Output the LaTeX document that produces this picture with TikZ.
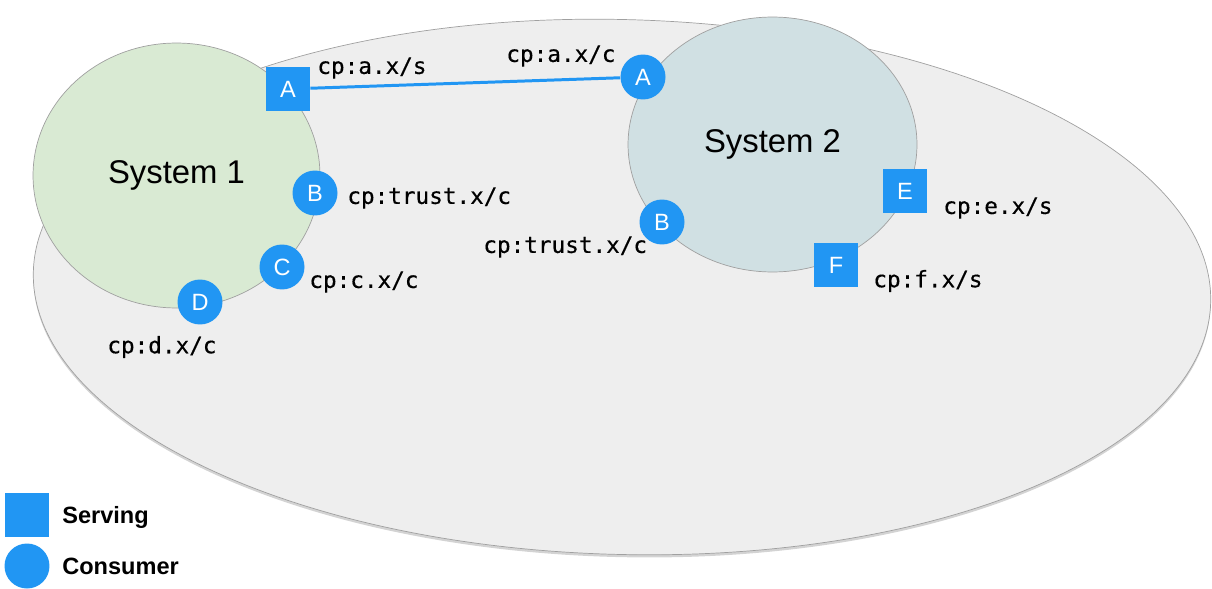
\documentclass[tikz,border=0pt]{standalone}
\usepackage{fontspec}
\setmainfont{Liberation Sans}
\setmonofont{DejaVu Sans Mono}[FakeBold=0.4]
\usetikzlibrary{shapes}
\usetikzlibrary{shadows}

\definecolor{portblue}{RGB}{33,150,243}
\definecolor{zonegray}{RGB}{238,238,238}
\definecolor{edgegray}{RGB}{160,160,160}
\definecolor{sysgreen}{RGB}{217,234,211}
\definecolor{syscyan}{RGB}{208,224,227}

\begin{document}
\begin{tikzpicture}[x=0.02cm,y=-0.02cm]
	\tikzstyle{serving}=[rectangle,fill=portblue,text=white,minimum size=0.88cm,inner sep=0pt,font=\fontsize{13.4}{15}\selectfont]
	\tikzstyle{consumer}=[circle,fill=portblue,text=white,minimum size=0.9cm,inner sep=0pt,font=\fontsize{13.4}{15}\selectfont]
	\tikzstyle{port}=[anchor=west,inner sep=0pt,font=\ttfamily\fontsize{12.9}{15}\selectfont]
	\tikzstyle{system}=[ellipse,draw=edgegray,inner sep=0pt,font=\fontsize{18.7}{21}\selectfont]
	\tikzstyle{legend}=[anchor=west,inner sep=0pt,font=\bfseries\fontsize{13.4}{15}\selectfont]
	\useasboundingbox (0,0) rectangle (1212,588);
	% the zone and both systems
	\node[ellipse,draw=edgegray,fill=zonegray,minimum width=23.56cm,minimum height=10.7cm,rotate=-1.5,
		drop shadow={shadow xshift=0pt,shadow yshift=-1.5pt,opacity=0.35}] (zone) at (622,287) {};
	\node[system,fill=sysgreen,minimum width=5.74cm,minimum height=5.3cm] (sys1) at (176.5,175.5) {System 1};
	\node[system,fill=syscyan,minimum width=5.78cm,minimum height=5.1cm] (sys2) at (772.5,144.5) {System 2};
	% ports
	\node[serving] (sqA) at (288,89) {A};
	\node[consumer] (cA) at (643,77) {A};
	\node[consumer] (cB1) at (315,193) {B};
	\node[consumer] (cC) at (282,267) {C};
	\node[consumer] (cD) at (200,302) {D};
	\node[consumer] (cB2) at (662,222) {B};
	\node[serving] (sqE) at (905,191) {E};
	\node[serving] (sqF) at (836,265) {F};
	\draw[portblue,line width=1.7pt] (sqA) -- (cA);
	% port names
	\node[port] (lblAs) at (317,68) {cp:a.x/s};
	\node[port] (lblAc) at (506,56) {cp:a.x/c};
	\node[port] (lblB1) at (347,198) {cp:trust.x/c};
	\node[port] (lblC) at (309,282) {cp:c.x/c};
	\node[port] (lblD) at (107,347) {cp:d.x/c};
	\node[port] (lblB2) at (483,247) {cp:trust.x/c};
	\node[port] (lblE) at (943,208) {cp:e.x/s};
	\node[port] (lblF) at (873,281) {cp:f.x/s};
	% legend
	\node[serving] (keyS) at (27,515) {};
	\node[consumer] (keyC) at (27,566) {};
	\node[legend] (keySt) at (62,517) {Serving};
	\node[legend] (keyCt) at (62,566) {Consumer};
\end{tikzpicture}
\end{document}
